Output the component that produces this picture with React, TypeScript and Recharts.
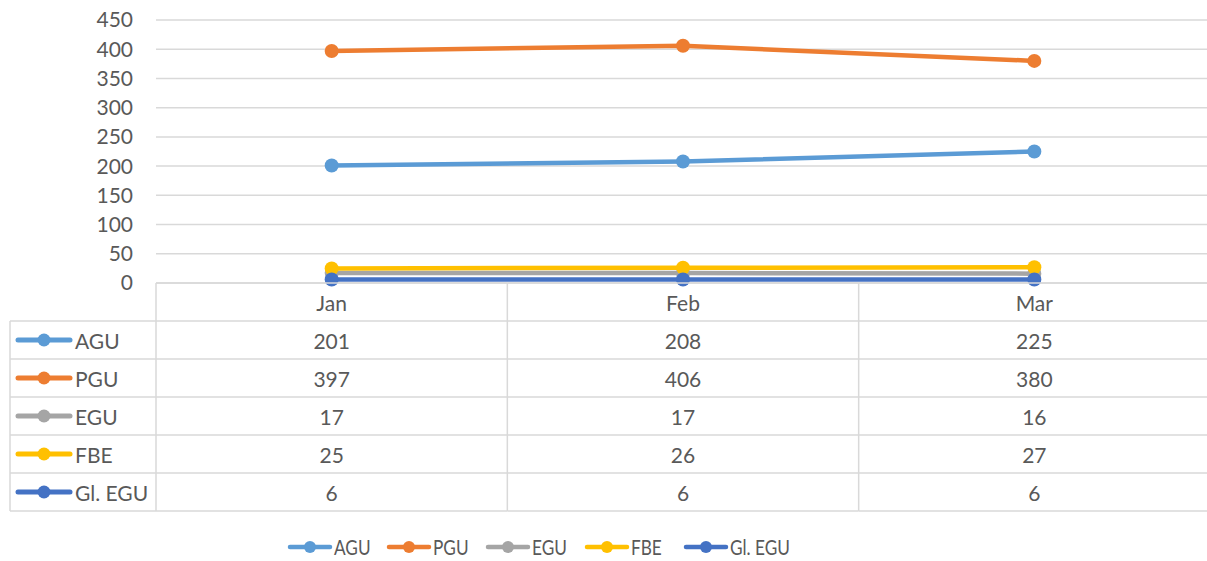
import React from 'react';
import { LineChart, Line, XAxis, YAxis, CartesianGrid, Legend } from 'recharts';

// Source values (as shown in the data table)
const months = ['Jan', 'Feb', 'Mar'];
const aguValues = [201, 208, 225];
const pguValues = [397, 406, 380];
const eguValues = [17, 17, 16];
const fbeValues = [25, 26, 27];
const glEguValues = [6, 6, 6];
const yTicks = [0, 50, 100, 150, 200, 250, 300, 350, 400, 450];

const series = [
  { name: 'AGU', values: aguValues, color: '#5B9BD5' },
  { name: 'PGU', values: pguValues, color: '#ED7D31' },
  { name: 'EGU', values: eguValues, color: '#A5A5A5' },
  { name: 'FBE', values: fbeValues, color: '#FFC000' },
  { name: 'Gl. EGU', values: glEguValues, color: '#4472C4' },
];

const data = months.map((month, i) => {
  const row: Record<string, string | number> = { month };
  series.forEach((s) => {
    row[s.name] = s.values[i];
  });
  return row;
});

// Layout
const CHART_W = 1210;
const CHART_H = 561;
const PLOT_LEFT = 156;
const PLOT_TOP = 20;
const PLOT_BOTTOM = 283;
const ROW_H = 38;
const TABLE_LEFT = 10;
const LEGEND_H = 50;
const BAND = (CHART_W - PLOT_LEFT) / months.length;
const GRID = '#D9D9D9';
const TEXT = '#595959';
const FONT = 21;

// Each bottom axis renders one row of the data table
const makeTableTick = (row: number) => (props: any) => {
  const { payload, index } = props;
  const cx = payload.coordinate;
  const half = BAND / 2;
  const top = PLOT_BOTTOM + row * ROW_H;
  const bottom = top + ROW_H;
  const left = cx - half;
  const right = cx + half;
  const s = row === 0 ? null : series[row - 1];
  const label = s ? s.values[index] : payload.value;
  const isLastRow = row === series.length;
  const midY = top + ROW_H / 2;

  return (
    <g>
      <line x1={left} y1={top} x2={right} y2={top} stroke={GRID} strokeWidth={1.5} />
      <line x1={left} y1={top} x2={left} y2={bottom} stroke={GRID} strokeWidth={1.5} />
      {index === months.length - 1 && (
        <line x1={right} y1={top} x2={right} y2={bottom} stroke={GRID} strokeWidth={1.5} />
      )}
      {isLastRow && <line x1={left} y1={bottom} x2={right} y2={bottom} stroke={GRID} strokeWidth={1.5} />}
      <text x={cx} y={midY} textAnchor="middle" dominantBaseline="central" fill={TEXT} fontSize={FONT}>
        {label}
      </text>
      {s && index === 0 && (
        <g>
          <line x1={TABLE_LEFT} y1={top} x2={left} y2={top} stroke={GRID} strokeWidth={1.5} />
          <line x1={TABLE_LEFT} y1={top} x2={TABLE_LEFT} y2={bottom} stroke={GRID} strokeWidth={1.5} />
          {isLastRow && (
            <line x1={TABLE_LEFT} y1={bottom} x2={left} y2={bottom} stroke={GRID} strokeWidth={1.5} />
          )}
          <line x1={18} y1={midY} x2={70} y2={midY} stroke={s.color} strokeWidth={5} strokeLinecap="round" />
          <circle cx={44} cy={midY} r={6.5} fill={s.color} />
          <text x={75} y={midY} dominantBaseline="central" fill={TEXT} fontSize={FONT}>
            {s.name}
          </text>
        </g>
      )}
    </g>
  );
};

const renderLegend = () => (
  <svg width={CHART_W} height={LEGEND_H} style={{ display: 'block' }}>
    {series.map((s, i) => {
      const x = 288 + i * 99;
      const y = 36;
      return (
        <g key={s.name}>
          <line x1={x + 2} y1={y} x2={x + 42} y2={y} stroke={s.color} strokeWidth={4.5} strokeLinecap="round" />
          <circle cx={x + 22} cy={y} r={6} fill={s.color} />
          <g transform={`translate(${x + 46},${y})`}>
            <text transform="scale(0.82,1)" dominantBaseline="central" fill={TEXT} fontSize={FONT}>
              {s.name}
            </text>
          </g>
        </g>
      );
    })}
  </svg>
);

const App: React.FC = () => {
  return (
    <div
      style={{
        position: 'absolute',
        left: 0,
        top: 0,
        width: 1207,
        height: CHART_H,
        overflow: 'hidden',
        background: '#ffffff',
        fontFamily: 'Lato, "Open Sans", sans-serif',
      }}
    >
      <LineChart width={CHART_W} height={CHART_H} data={data} margin={{ top: PLOT_TOP, right: 0, left: 0, bottom: 0 }}>
        <CartesianGrid xAxisId="header" vertical={false} stroke={GRID} strokeWidth={1.5} />
        <YAxis
          domain={[0, 450]}
          ticks={yTicks}
          interval={0}
          width={PLOT_LEFT}
          axisLine={false}
          tickLine={false}
          tickSize={0}
          tickMargin={23}
          tick={{ fill: TEXT, fontSize: FONT }}
        />
        <XAxis
          xAxisId="header"
          dataKey="month"
          scale="band"
          height={ROW_H}
          interval={0}
          axisLine={false}
          tickLine={false}
          tick={makeTableTick(0)}
        />
        {series.map((s, i) => (
          <XAxis
            key={s.name}
            xAxisId={`row${i + 1}`}
            dataKey="month"
            scale="band"
            height={ROW_H}
            interval={0}
            axisLine={false}
            tickLine={false}
            tick={makeTableTick(i + 1)}
          />
        ))}
        {series.map((s) => (
          <Line
            key={s.name}
            xAxisId="header"
            type="linear"
            dataKey={s.name}
            stroke={s.color}
            strokeWidth={4.5}
            dot={{ r: 7, fill: s.color, stroke: s.color, strokeWidth: 0 }}
            activeDot={false}
            isAnimationActive={false}
          />
        ))}
        <Legend verticalAlign="bottom" height={LEGEND_H} content={renderLegend} />
      </LineChart>
    </div>
  );
};

export default App;
